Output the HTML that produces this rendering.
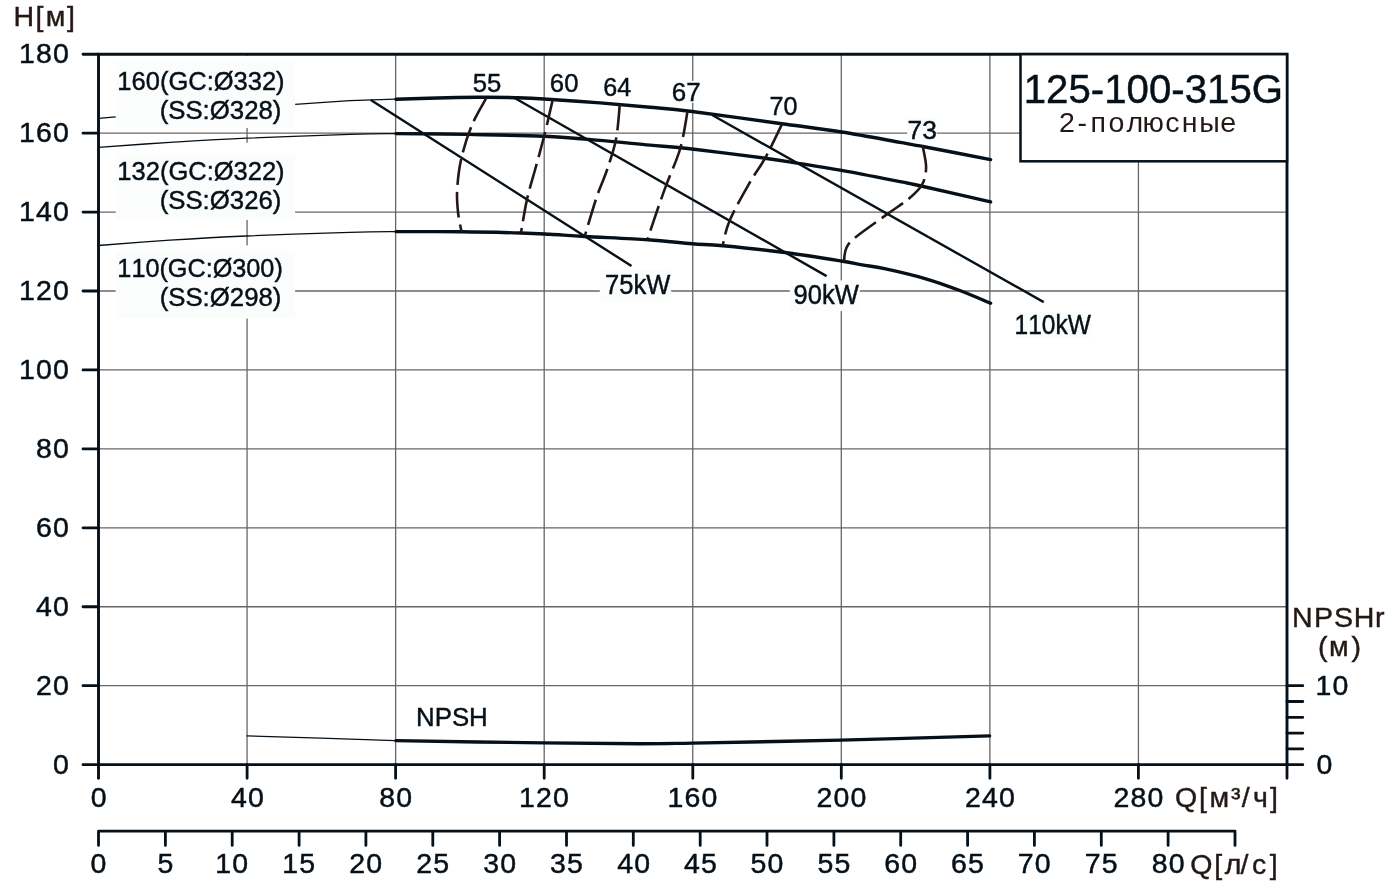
<!DOCTYPE html>
<html lang="ru"><head><meta charset="utf-8"><title>125-100-315G</title>
<style>html,body{margin:0;padding:0;background:#fff}body{width:1399px;height:882px;overflow:hidden}svg{display:block}text{font-family:"Liberation Sans",Arial,sans-serif;font-kerning:none;white-space:pre}.n,.i{fill:#061019;stroke:#061019;stroke-width:.45px}.b{fill:#231815;stroke:#231815;stroke-width:.4px}.b2{fill:#231815}</style></head><body>
<svg width="1399" height="882" viewBox="0 0 1399 882">
<rect width="1399" height="882" fill="#fff"/>
<path d="M247.06 54.2 V764.6 M395.62 54.2 V764.6 M544.19 54.2 V764.6 M692.75 54.2 V764.6 M841.31 54.2 V764.6 M989.88 54.2 V764.6 M1138.44 54.2 V764.6 M98.5 685.71 H1287.0 M98.5 606.77 H1287.0 M98.5 527.83 H1287.0 M98.5 448.89 H1287.0 M98.5 369.96 H1287.0 M98.5 291.02 H1287.0 M98.5 212.08 H1287.0 M98.5 133.14 H1287.0" stroke="#686566" stroke-width="1.3" fill="none"/>
<rect x="115.7" y="55.7" width="179.4" height="72.3" fill="#fff"/>
<rect x="115.7" y="142.8" width="179.4" height="77.2" fill="#fff"/>
<rect x="115.7" y="245.4" width="179.4" height="73.0" fill="#fff"/>
<rect x="116.0" y="61.4" width="179.0" height="66.5" fill="#fbfdfd"/>
<rect x="116.0" y="153.4" width="179.0" height="66.3" fill="#fbfdfd"/>
<rect x="116.0" y="251.2" width="179.0" height="67.1" fill="#fbfdfd"/>
<rect x="599.8" y="269.7" width="71.4" height="31.1" fill="#fbfdfd"/>
<rect x="789.8" y="280.4" width="70.0" height="30.7" fill="#fbfdfd"/>
<rect x="907.1" y="118.0" width="29.5" height="23.0" fill="#fbfdfd"/>
<rect x="671.5" y="80.9" width="29.7" height="21.9" fill="#fbfdfd"/>
<rect x="1015.7" y="312.2" width="76.0" height="25.8" fill="#fbfdfd"/>
<path d="M98.5 118.4 C101.4 118.2 112.8 117.2 115.7 116.9 M295.2 104.4 C304.3 103.8 337.4 101.5 350.0 100.7 C362.6 100.0 363.5 100.2 371.0 99.9 C378.5 99.7 391.0 99.3 395.0 99.2 M98.5 147.3 C110.4 146.5 145.3 143.9 170.0 142.4 C194.7 140.9 216.5 139.5 246.5 138.2 C276.5 136.9 325.2 135.2 350.0 134.4 C374.8 133.6 387.5 133.7 395.0 133.6 M98.3 245.5 C110.2 244.6 145.3 241.8 170.0 240.2 C194.7 238.6 216.5 237.3 246.5 236.0 C276.5 234.7 325.2 233.1 350.0 232.4 C374.8 231.7 387.5 231.7 395.0 231.6 M246.5 735.8 C271.2 736.6 370.2 739.8 395.0 740.6" stroke="#061019" stroke-width="1.3" fill="none"/>
<path d="M396.0 99.2 C406.2 98.9 442.0 97.8 457.0 97.5 C472.0 97.2 476.3 97.3 486.0 97.3 C495.7 97.3 505.3 97.4 515.0 97.7 C524.7 98.0 529.8 98.1 544.0 99.0 C558.2 99.9 582.3 101.5 600.0 102.9 C617.7 104.3 634.7 105.8 650.0 107.2 C665.3 108.6 670.0 108.8 692.0 111.5 C714.0 114.2 757.1 120.3 782.0 123.7 C806.9 127.1 821.8 128.9 841.5 132.0 C861.2 135.1 886.5 139.9 900.0 142.3 C913.5 144.7 907.7 143.6 922.8 146.5 C937.9 149.4 979.3 157.4 990.6 159.6" stroke="#061019" stroke-width="3.4" stroke-linecap="round" fill="none"/>
<path d="M396.0 133.6 C408.0 133.7 443.3 133.9 468.0 134.4 C492.7 134.9 522.0 135.3 544.0 136.3 C566.0 137.3 582.3 138.9 600.0 140.4 C617.7 141.9 634.7 143.7 650.0 145.1 C665.3 146.5 672.8 146.8 692.0 149.0 C711.2 151.2 747.0 155.8 765.0 158.2 C783.0 160.6 787.2 161.6 800.0 163.6 C812.8 165.6 824.8 167.4 841.5 170.4 C858.2 173.4 886.8 179.1 900.0 181.7 C913.2 184.3 905.9 182.6 921.0 186.0 C936.1 189.4 979.0 199.2 990.6 201.9" stroke="#061019" stroke-width="3.4" stroke-linecap="round" fill="none"/>
<path d="M396.0 231.6 C406.8 231.6 440.2 231.6 461.0 231.8 C481.8 232.0 506.2 232.6 521.0 233.0 C535.8 233.4 539.3 233.7 550.0 234.3 C560.7 234.9 568.7 235.6 585.0 236.5 C601.3 237.4 630.2 238.5 648.0 239.7 C665.8 240.9 679.5 242.7 692.0 243.7 C704.5 244.7 707.5 244.3 723.0 245.8 C738.5 247.3 765.3 250.0 785.0 252.5 C804.7 255.0 828.2 258.9 841.0 261.0 C853.8 263.1 854.8 263.6 862.0 264.9 C869.2 266.2 873.9 266.4 884.5 268.7 C895.1 271.0 913.2 275.2 925.8 278.8 C938.3 282.4 949.0 286.4 959.8 290.5 C970.6 294.6 985.5 301.1 990.6 303.2" stroke="#061019" stroke-width="3.4" stroke-linecap="round" fill="none"/>
<path d="M396.0 740.6 C420.6 741.0 502.8 742.4 543.5 742.9 C584.2 743.4 615.2 743.7 640.0 743.7 C664.8 743.7 658.5 743.7 692.0 743.1 C725.5 742.5 791.4 741.3 841.0 740.1 C890.6 738.9 964.8 736.6 989.6 735.9" stroke="#061019" stroke-width="3.4" stroke-linecap="round" fill="none"/>
<path d="M370.8 99.9 L631.5 266 M515.1 98.2 L826.6 276.1 M712.6 115.3 L1043.7 302.1" stroke="#061019" stroke-width="2.4" fill="none"/>
<path d="M486.2 98.2 C483.8 102.7 476.1 115.1 472.0 125.0 C467.9 134.9 464.0 147.0 461.5 157.6 C459.0 168.2 457.8 179.6 457.2 188.7 C456.6 197.8 457.3 204.8 458.0 212.0 C458.7 219.2 460.9 228.3 461.5 231.6" stroke="#231815" stroke-width="2.6" stroke-dasharray="26 7" fill="none"/>
<path d="M552.7 99.7 C551.3 105.8 547.1 124.6 544.1 136.3 C541.1 148.0 537.9 159.5 535.0 170.0 C532.1 180.5 529.3 189.0 527.0 199.4 C524.7 209.8 522.0 227.1 521.0 232.6" stroke="#231815" stroke-width="2.6" stroke-dasharray="26 7" fill="none"/>
<path d="M619.8 104.4 C619.2 110.2 618.1 128.4 616.0 139.3 C613.9 150.2 610.2 160.3 607.0 170.0 C603.8 179.7 600.3 186.3 596.6 197.3 C592.9 208.3 586.8 229.5 584.8 235.9" stroke="#231815" stroke-width="2.6" stroke-dasharray="26 7" fill="none"/>
<path d="M687.5 111.5 C686.3 117.6 683.9 135.8 680.4 148.0 C676.9 160.2 670.6 173.4 666.5 184.4 C662.4 195.4 659.1 204.9 656.0 214.0 C652.9 223.1 649.0 234.8 647.6 239.0" stroke="#231815" stroke-width="2.6" stroke-dasharray="26 7" fill="none"/>
<path d="M782.3 123.7 C779.4 129.4 770.5 148.4 765.1 158.2 C759.7 167.9 755.9 171.8 750.0 182.2 C744.1 192.6 734.2 209.8 729.7 220.4 C725.2 231.0 723.9 241.3 722.7 245.5" stroke="#231815" stroke-width="2.6" stroke-dasharray="26 7" fill="none"/>
<path d="M922.8 146.5 C923.3 149.9 926.2 160.9 926.1 167.2 C926.0 173.5 925.0 179.2 922.2 184.4 C919.4 189.6 915.3 193.3 909.4 198.3 C903.5 203.3 896.0 207.8 886.9 214.4 C877.8 221.0 861.5 232.3 854.7 238.0 C847.9 243.7 847.9 244.8 846.1 248.7 C844.3 252.5 844.4 259.0 844.0 261.1" stroke="#231815" stroke-width="2.6" stroke-dasharray="26 7" fill="none"/>
<path d="M83.0 54.20 H1287.0 V764.65 H83.0" stroke="#061019" stroke-width="2.9" stroke-linecap="round" fill="none"/>
<path d="M98.5 54.20 V778.3" stroke="#061019" stroke-width="2.9" stroke-linecap="round" fill="none"/>
<path d="M83 685.71 H98.5 M83 606.77 H98.5 M83 527.83 H98.5 M83 448.89 H98.5 M83 369.96 H98.5 M83 291.02 H98.5 M83 212.08 H98.5 M83 133.14 H98.5 M247.1 764.65 V778.3 M395.6 764.65 V778.3 M544.2 764.65 V778.3 M692.8 764.65 V778.3 M841.3 764.65 V778.3 M989.9 764.65 V778.3 M1138.4 764.65 V778.3 M1287.0 764.65 V778.3 M1287.0 764.65 H1302.8 M1287.0 748.86 H1302.8 M1287.0 733.07 H1302.8 M1287.0 717.29 H1302.8 M1287.0 701.50 H1302.8 M1287.0 685.71 H1302.8" stroke="#061019" stroke-width="2.8" stroke-linecap="round" fill="none"/>
<path d="M98.5 831.2 H1235.0 M98.5 831.2 V845.4 M165.4 831.2 V845.4 M232.2 831.2 V845.4 M299.1 831.2 V845.4 M365.9 831.2 V845.4 M432.8 831.2 V845.4 M499.6 831.2 V845.4 M566.5 831.2 V845.4 M633.3 831.2 V845.4 M700.2 831.2 V845.4 M767.0 831.2 V845.4 M833.9 831.2 V845.4 M900.7 831.2 V845.4 M967.6 831.2 V845.4 M1034.4 831.2 V845.4 M1101.3 831.2 V845.4 M1168.1 831.2 V845.4 M1235.0 831.2 V845.4" stroke="#061019" stroke-width="2.8" stroke-linecap="round" fill="none"/>
<rect x="1020.5" y="54.20" width="266.5" height="107.10" fill="#fff" stroke="#061019" stroke-width="2.5"/>
<text class="n" transform="translate(52.96 773.60) scale(1.0550 1)" font-size="27.00" letter-spacing="1.10">0</text>
<text class="n" transform="translate(35.96 694.66) scale(1.0550 1)" font-size="27.00" letter-spacing="1.10">20</text>
<text class="n" transform="translate(35.96 615.72) scale(1.0550 1)" font-size="27.00" letter-spacing="1.10">40</text>
<text class="n" transform="translate(35.96 536.78) scale(1.0550 1)" font-size="27.00" letter-spacing="1.10">60</text>
<text class="n" transform="translate(35.96 457.84) scale(1.0550 1)" font-size="27.00" letter-spacing="1.10">80</text>
<text class="n" transform="translate(18.95 378.91) scale(1.0550 1)" font-size="27.00" letter-spacing="1.10">100</text>
<text class="n" transform="translate(18.95 299.97) scale(1.0550 1)" font-size="27.00" letter-spacing="1.10">120</text>
<text class="n" transform="translate(18.95 221.03) scale(1.0550 1)" font-size="27.00" letter-spacing="1.10">140</text>
<text class="n" transform="translate(18.95 142.09) scale(1.0550 1)" font-size="27.00" letter-spacing="1.10">160</text>
<text class="n" transform="translate(18.95 63.15) scale(1.0550 1)" font-size="27.00" letter-spacing="1.10">180</text>
<text class="n" transform="translate(90.76 807.10) scale(1.0550 1)" font-size="27.00" letter-spacing="1.10">0</text>
<text class="n" transform="translate(231.07 807.10) scale(1.0550 1)" font-size="27.00" letter-spacing="1.10">40</text>
<text class="n" transform="translate(379.35 807.10) scale(1.0550 1)" font-size="27.00" letter-spacing="1.10">80</text>
<text class="n" transform="translate(518.95 807.10) scale(1.0550 1)" font-size="27.00" letter-spacing="1.10">120</text>
<text class="n" transform="translate(667.51 807.10) scale(1.0550 1)" font-size="27.00" letter-spacing="1.10">160</text>
<text class="n" transform="translate(816.43 807.10) scale(1.0550 1)" font-size="27.00" letter-spacing="1.10">200</text>
<text class="n" transform="translate(964.99 807.10) scale(1.0550 1)" font-size="27.00" letter-spacing="1.10">240</text>
<text class="n" transform="translate(1113.55 807.10) scale(1.0550 1)" font-size="27.00" letter-spacing="1.10">280</text>
<text class="n" transform="translate(90.56 873.30) scale(1.0550 1)" font-size="27.00" letter-spacing="1.10">0</text>
<text class="n" transform="translate(157.45 873.30) scale(1.0550 1)" font-size="27.00" letter-spacing="1.10">5</text>
<text class="n" transform="translate(215.27 873.30) scale(1.0550 1)" font-size="27.00" letter-spacing="1.10">10</text>
<text class="n" transform="translate(282.15 873.30) scale(1.0550 1)" font-size="27.00" letter-spacing="1.10">15</text>
<text class="n" transform="translate(349.33 873.30) scale(1.0550 1)" font-size="27.00" letter-spacing="1.10">20</text>
<text class="n" transform="translate(416.22 873.30) scale(1.0550 1)" font-size="27.00" letter-spacing="1.10">25</text>
<text class="n" transform="translate(483.21 873.30) scale(1.0550 1)" font-size="27.00" letter-spacing="1.10">30</text>
<text class="n" transform="translate(550.10 873.30) scale(1.0550 1)" font-size="27.00" letter-spacing="1.10">35</text>
<text class="n" transform="translate(617.13 873.30) scale(1.0550 1)" font-size="27.00" letter-spacing="1.10">40</text>
<text class="n" transform="translate(684.02 873.30) scale(1.0550 1)" font-size="27.00" letter-spacing="1.10">45</text>
<text class="n" transform="translate(750.59 873.30) scale(1.0550 1)" font-size="27.00" letter-spacing="1.10">50</text>
<text class="n" transform="translate(817.48 873.30) scale(1.0550 1)" font-size="27.00" letter-spacing="1.10">55</text>
<text class="n" transform="translate(884.15 873.30) scale(1.0550 1)" font-size="27.00" letter-spacing="1.10">60</text>
<text class="n" transform="translate(951.04 873.30) scale(1.0550 1)" font-size="27.00" letter-spacing="1.10">65</text>
<text class="n" transform="translate(1017.82 873.30) scale(1.0550 1)" font-size="27.00" letter-spacing="1.10">70</text>
<text class="n" transform="translate(1084.71 873.30) scale(1.0550 1)" font-size="27.00" letter-spacing="1.10">75</text>
<text class="n" transform="translate(1151.67 873.30) scale(1.0550 1)" font-size="27.00" letter-spacing="1.10">80</text>
<text class="n" transform="translate(1315.46 694.91) scale(1.0550 1)" font-size="27.00" letter-spacing="1.10">10</text>
<text class="n" transform="translate(1316.46 773.85) scale(1.0550 1)" font-size="27.00" letter-spacing="1.10">0</text>
<text class="b" transform="translate(0 25.70) scale(1.0500 1)" font-size="27.20" x="12.90 33.74 43.62 63.89">H[м]</text>
<text class="b" transform="translate(0 807.10) scale(1.0500 1)" font-size="27.20" x="1119.09 1142.03 1151.81 1172.42 1182.57 1193.23 1209.51">Q[м³/ч]</text>
<text class="b" transform="translate(0 873.50) scale(1.0500 1)" font-size="27.20" x="1133.47 1156.50 1166.53 1181.43 1192.37 1209.22">Q[л/с]</text>
<text class="b" transform="translate(0 627.10) scale(1.0500 1)" font-size="27.20" x="1230.52 1251.47 1270.59 1289.28 1309.50">NPSHr</text>
<text class="b" transform="translate(0 655.70) scale(1.0500 1)" font-size="27.20" x="1255.16 1265.72 1287.03">(м)</text>
<text class="b2" transform="translate(0 132.00) scale(1.0500 1)" font-size="27.20" x="1008.54 1026.20 1038.67 1055.80 1072.82 1088.19 1109.70 1125.52 1142.10 1162.08">2-полюсные</text>
<text class="i" transform="translate(1023.73 102.80) scale(0.9737 1)" font-size="41.30">125-100-315G</text>
<text class="i" transform="translate(117.34 89.60) scale(0.9812 1)" font-size="26.00">160(GC:Ø332)</text>
<text class="i" transform="translate(159.64 118.80) scale(0.9919 1)" font-size="26.00">(SS:Ø328)</text>
<text class="i" transform="translate(117.34 179.60) scale(0.9812 1)" font-size="26.00">132(GC:Ø322)</text>
<text class="i" transform="translate(159.64 209.10) scale(0.9919 1)" font-size="26.00">(SS:Ø326)</text>
<text class="i" transform="translate(117.36 276.60) scale(0.9704 1)" font-size="26.00">110(GC:Ø300)</text>
<text class="i" transform="translate(159.64 305.70) scale(0.9919 1)" font-size="26.00">(SS:Ø298)</text>
<text class="i" transform="translate(472.82 92.20) scale(0.9661 1)" font-size="26.60">55</text>
<text class="i" transform="translate(549.87 92.40) scale(0.9659 1)" font-size="26.60">60</text>
<text class="i" transform="translate(603.29 96.30) scale(0.9456 1)" font-size="26.60">64</text>
<text class="i" transform="translate(671.85 100.70) scale(0.9778 1)" font-size="26.60">67</text>
<text class="i" transform="translate(769.43 114.70) scale(0.9461 1)" font-size="26.60">70</text>
<text class="i" transform="translate(907.57 139.30) scale(0.9915 1)" font-size="26.60">73</text>
<text class="i" transform="translate(605.11 293.90) scale(0.9523 1)" font-size="26.80">75kW</text>
<text class="i" transform="translate(793.54 304.00) scale(0.9534 1)" font-size="26.80">90kW</text>
<text class="i" transform="translate(1014.61 333.70) scale(0.9139 1)" font-size="26.80">110kW</text>
<text class="i" transform="translate(416.02 726.40) scale(0.9709 1)" font-size="26.60">NPSH</text>
</svg></body></html>
